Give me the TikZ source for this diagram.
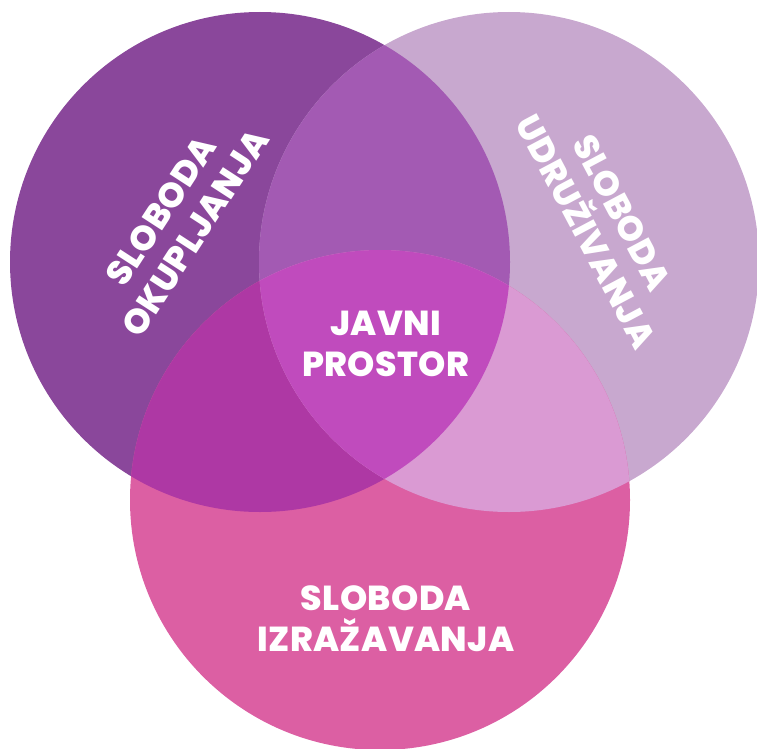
\documentclass[tikz,border=0pt]{standalone}
\usepackage{fontspec}
\newfontfamily\vfont{Poppins}[UprightFont=* ExtraBold, LetterSpace=1]
\definecolor{cL}{HTML}{8A479B}
\definecolor{cR}{HTML}{C8A8CF}
\definecolor{cB}{HTML}{DC5FA3}
\definecolor{cLR}{HTML}{A35AB3}
\definecolor{cLB}{HTML}{AE38A4}
\definecolor{cRB}{HTML}{DA9AD3}
\definecolor{cLRB}{HTML}{C04BBD}
\tikzset{
  lbl/.style={text=white, align=center, inner sep=0pt,
    font=\vfont\fontsize{26pt}{30.5pt}\selectfont}
}
\begin{document}
\begin{tikzpicture}[x=0.75pt,y=-0.75pt]
\useasboundingbox (0,0) rectangle (757,749);
\coordinate (L) at (260,262);
\coordinate (R) at (509,262);
\coordinate (B) at (380,500);
\def\rad{187.5pt}
\fill[cL] (L) circle (\rad);
\fill[cR] (R) circle (\rad);
\fill[cB] (B) circle (\rad);
\begin{scope}
  \clip (L) circle (\rad);
  \fill[cLR] (R) circle (\rad);
\end{scope}
\begin{scope}
  \clip (L) circle (\rad);
  \fill[cLB] (B) circle (\rad);
\end{scope}
\begin{scope}
  \clip (R) circle (\rad);
  \fill[cRB] (B) circle (\rad);
\end{scope}
\begin{scope}
  \clip (L) circle (\rad);
  \clip (R) circle (\rad);
  \fill[cLRB] (B) circle (\rad);
\end{scope}
\node[lbl, rotate=57] (okup) at (178,222) {SLOBODA\\OKUPLJANJA};
\node[lbl, rotate=-62] (udru) at (604,222) {SLOBODA\\UDRUŽIVANJA};
\node[lbl] (javni) at (385.5,344) {JAVNI\\PROSTOR};
\node[lbl] (izra) at (386,619) {SLOBODA\\IZRAŽAVANJA};
\end{tikzpicture}
\end{document}
